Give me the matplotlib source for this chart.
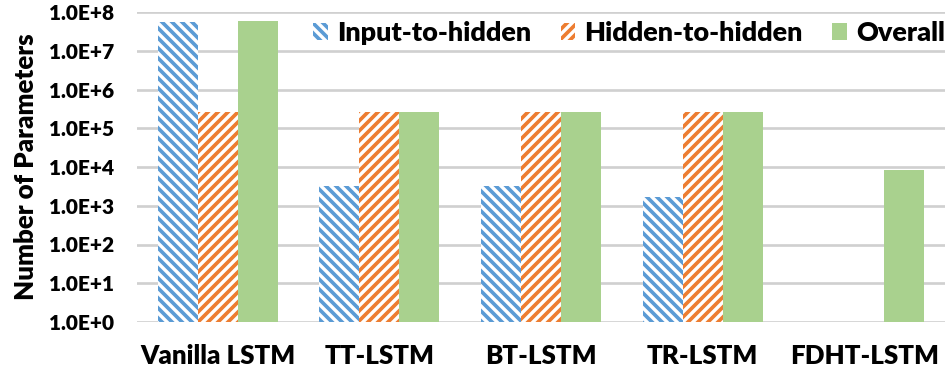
import numpy as np
from matplotlib import pyplot as plt
from matplotlib.ticker import FixedLocator, FuncFormatter

categories = ['Vanilla LSTM', 'TT-LSTM', 'BT-LSTM', 'TR-LSTM', 'FDHT-LSTM']
input_to_hidden = [5.6e7, 3.2e3, 3.2e3, 1.7e3, np.nan]
hidden_to_hidden = [2.6e5, 2.6e5, 2.6e5, 2.6e5, np.nan]
overall = [5.9e7, 2.64e5, 2.64e5, 2.64e5, 8.4e3]

plt.rcParams['font.family'] = ['Lato', 'DejaVu Sans']
plt.rcParams['font.weight'] = 'heavy'
plt.rcParams['hatch.linewidth'] = 2.2

blue = '#5b9bd5'
orange = '#ed7d31'
green = '#a9d18e'

dpi = 120
fig = plt.figure(figsize=(949 / dpi, 375 / dpi), dpi=dpi)
ax = fig.add_axes([137 / 949, 53 / 375, 808 / 949, 310 / 375])
ax.set_yscale('log')

x = np.arange(len(categories))
w = 0.2475
ax.bar(x - w, input_to_hidden, w, facecolor='white', edgecolor=blue, hatch='\\\\\\\\',
       linewidth=0, label='Input-to-hidden', zorder=2)
ax.bar(x, hidden_to_hidden, w, facecolor='white', edgecolor=orange, hatch='////',
       linewidth=0, label='Hidden-to-hidden', zorder=2)
ax.bar(x + w, overall, w, color=green, linewidth=0, label='Overall', zorder=2)

ax.set_xlim(-0.5, len(categories) - 0.5)
ax.set_ylim(1, 1e8)
ax.yaxis.set_major_locator(FixedLocator([10.0 ** k for k in range(9)]))
ax.yaxis.set_minor_locator(FixedLocator([]))
ax.yaxis.set_major_formatter(FuncFormatter(lambda v, p: '1.0E+%d' % round(np.log10(v))))
ax.set_xticks(x)
ax.set_xticklabels(categories)
ax.tick_params(axis='both', length=0, colors='black')
ax.tick_params(axis='y', labelsize=12.5, pad=13.5)
ax.tick_params(axis='x', labelsize=15.5, pad=13)
ax.grid(axis='y', color='#d0d0d0', linewidth=1.6, zorder=0)
for s in ax.spines.values():
    s.set_visible(False)

ax.set_ylabel('Number of Parameters', fontsize=15.5, fontweight='heavy', labelpad=7)

ax.legend(loc='center right', bbox_to_anchor=(1.0, 0.932), ncol=3, frameon=False,
          prop={'size': 16.2, 'weight': 'heavy'}, handlelength=0.55, handleheight=0.55,
          handletextpad=0.33, columnspacing=1.1, borderpad=0, borderaxespad=0)

plt.savefig('out.png', dpi=dpi)
